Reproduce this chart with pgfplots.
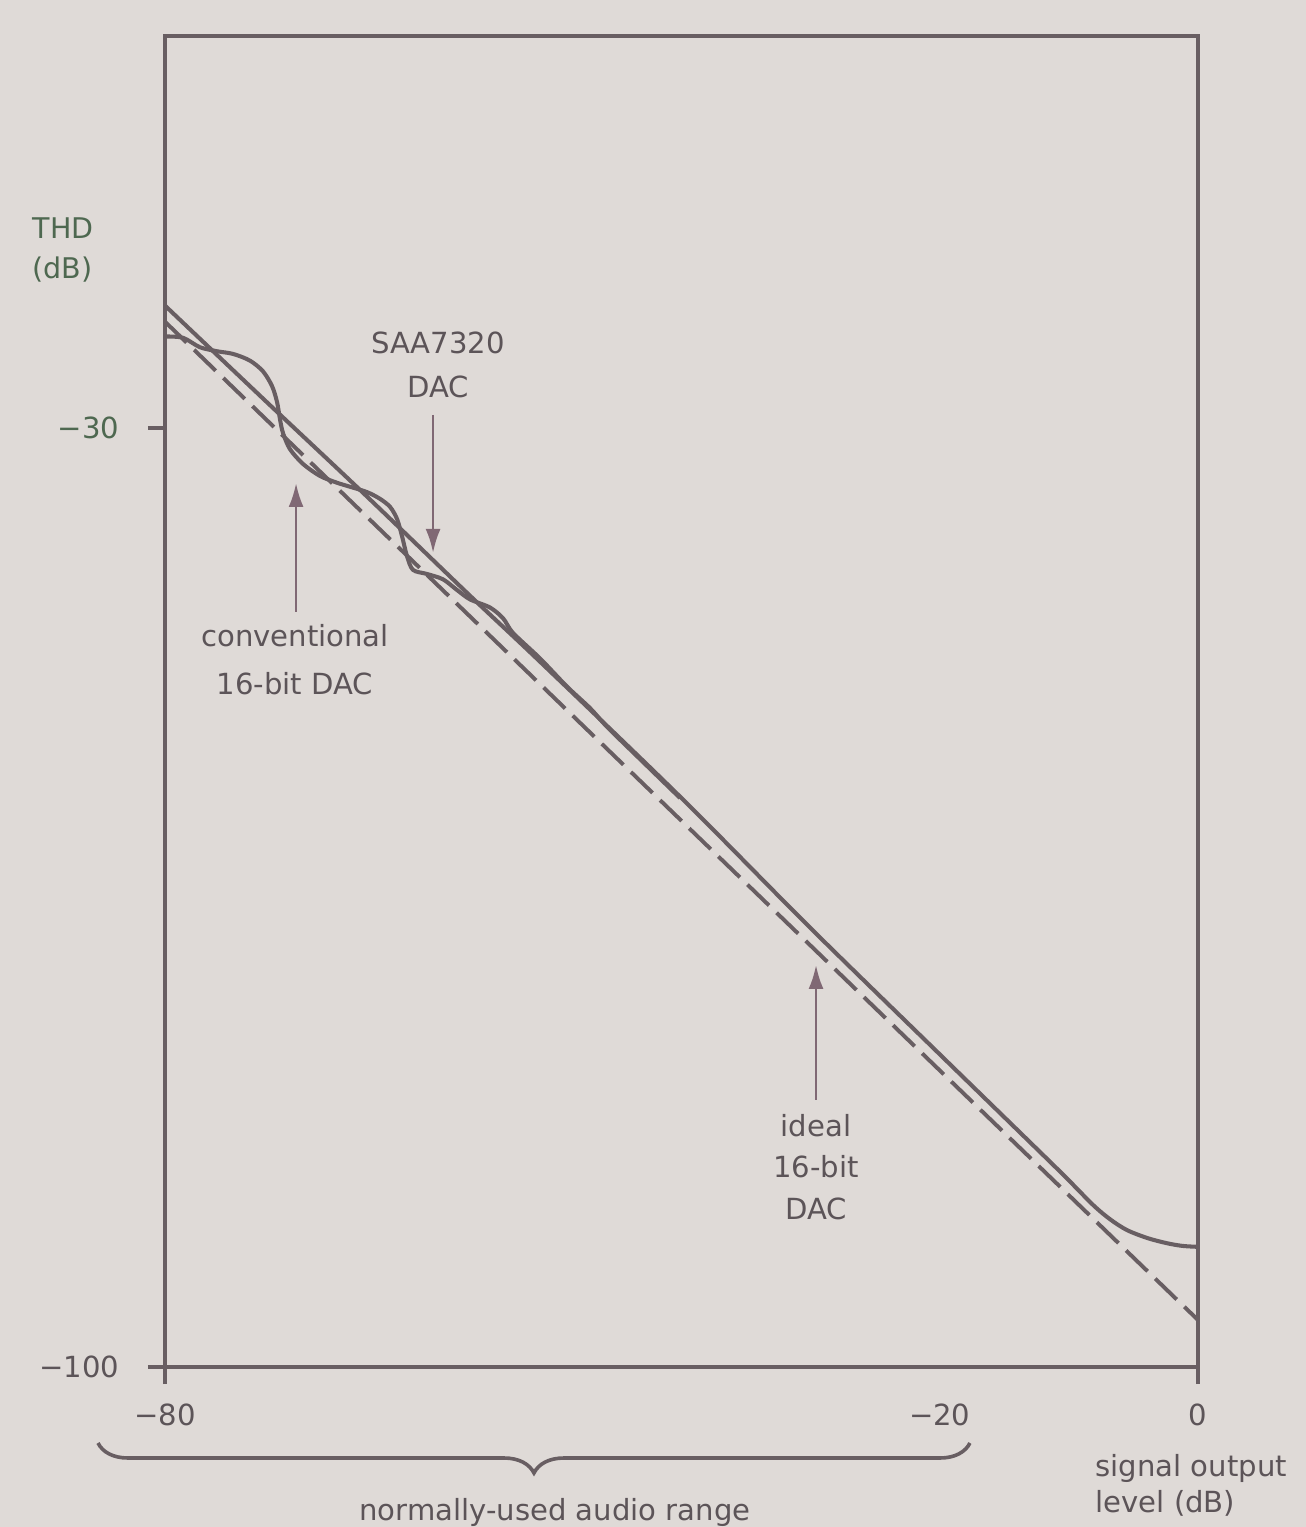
\documentclass[border=0pt]{standalone}
\usepackage{pgfplots}
\pgfplotsset{compat=1.18}
\usepackage{fontspec}
\setmainfont{DejaVu Sans}
\usetikzlibrary{arrows.meta,decorations.pathreplacing,backgrounds}
\definecolor{bg}{RGB}{223,218,215}
\definecolor{ink}{RGB}{104,94,98}
\definecolor{txt}{RGB}{92,84,88}
\definecolor{thdgreen}{RGB}{78,104,80}
\definecolor{arr}{RGB}{128,104,116}

\pgfplotstableread{
x y
-80 -20.9
-72 -28.2
-64.5 -35.0
-56.4 -42.5
-51 -47.4
-40 -57.6
-30 -67.3
-20 -76.7
-12 -84.2
-10.1 -86.0
-8.1 -87.95
-6.8 -89.0
-5.5 -89.8
-3.9 -90.4
-2.4 -90.78
-1.2 -90.98
0 -91.05
}\saa

\pgfplotstableread{
x y
-80 -23.2
-78.6 -23.3
-77.3 -24.0
-75.97 -24.3
-74.73 -24.5
-73.42 -25.0
-72.41 -25.8
-71.71 -26.9
-71.32 -28.1
-71.09 -29.4
-70.86 -30.4
-70.32 -31.6
-69.31 -32.7
-67.99 -33.6
-66.68 -34.1
-65.67 -34.4
-64.35 -34.8
-63.35 -35.3
-62.57 -35.9
-62.03 -36.8
-61.64 -38.1
-61.25 -39.6
-60.79 -40.6
-59.71 -40.9
-58.47 -41.3
-57.38 -42.1
-56.37 -42.8
-54.83 -43.4
-53.82 -44.2
-53.04 -45.3
-50.95 -47.2
-48.86 -49.3
-47.08 -50.9
-45.76 -52.3
-43.21 -54.7
-40.11 -57.6
}\conv

\pgfplotstableread{
x y
-80 -22.1
0 -96.5
}\ideal

\begin{document}
\begin{tikzpicture}
\begin{axis}[
  scale only axis,
  width=344.33pt, height=443.67pt,
  xmin=-80, xmax=0, ymin=-100, ymax=-0.8,
  clip=false,
  axis line style={ink, line width=1.4pt},
  tick align=outside,
  xtick pos=bottom, ytick pos=left,
  major tick length=5.7pt,
  tick style={ink, line width=1.2pt},
  xtick={-80,0},
  xticklabels={−80,0},
  extra x ticks={-20},
  extra x tick labels={−20},
  extra x tick style={major tick length=0pt, xticklabel style={yshift=-5.7pt}},
  ytick={-100,-30},
  yticklabels={−100,\textcolor{thdgreen}{−30}},
  ticklabel style={font=\fontsize{9.7}{12}\selectfont, text=txt},
  yticklabel style={xshift=-6pt},
  xticklabel style={yshift=-3pt},
]
\addplot[ink, line width=1.35pt, smooth, tension=0.5] table {\saa};
\addplot[ink, line width=1.35pt, smooth, tension=0.5] table {\conv};
\addplot[ink, line width=1.3pt, dash pattern=on 10pt off 3.5pt] table {\ideal};

% labels
\node[anchor=west, align=left, text=thdgreen, font=\fontsize{9.5}{13.3}\selectfont] at (axis cs:-91.07,-16.75) {THD\\(dB)};
\node[align=center, text=txt, font=\fontsize{9.7}{14.7}\selectfont] at (axis cs:-58.86,-25.32) {SAA7320\\DAC};
\draw[arr, line width=0.9pt, -{Latex[length=8pt,width=5pt]}] (axis cs:-59.24,-29.05) -- (axis cs:-59.24,-39.33);
\node[align=center, text=txt, font=\fontsize{9.7}{16}\selectfont] at (axis cs:-69.93,-47.31) {conventional\\16-bit DAC};
\draw[arr, line width=0.9pt, -{Latex[length=8pt,width=5pt]}] (axis cs:-69.85,-43.73) -- (axis cs:-69.85,-34.12);
\node[align=center, text=txt, font=\fontsize{9.7}{13.8}\selectfont] at (axis cs:-29.58,-85.10) {ideal\\16-bit\\DAC};
\draw[arr, line width=0.9pt, -{Latex[length=8pt,width=5pt]}] (axis cs:-29.58,-80.10) -- (axis cs:-29.58,-70.04);

\node[anchor=west, align=left, text=txt, font=\fontsize{9.7}{12}\selectfont] at (axis cs:-8.75,-108.8) {signal output\\level (dB)};
\draw[ink, line width=1.2pt, decorate, decoration={brace, mirror, amplitude=10pt}] (axis cs:-85.19,-105.67) -- (axis cs:-17.66,-105.67);
\node[text=txt, font=\fontsize{9.7}{12}\selectfont] at (axis cs:-49.8,-110.85) {normally-used audio range};

\coordinate (BL) at (axis cs:-92.78,-111.93);
\coordinate (TR) at (axis cs:8.36,1.88);
\end{axis}
\pgfresetboundingbox
\begin{scope}[on background layer]
\fill[bg] (BL) rectangle (TR);
\end{scope}
\path[use as bounding box] (BL) rectangle (TR);
\end{tikzpicture}
\end{document}
